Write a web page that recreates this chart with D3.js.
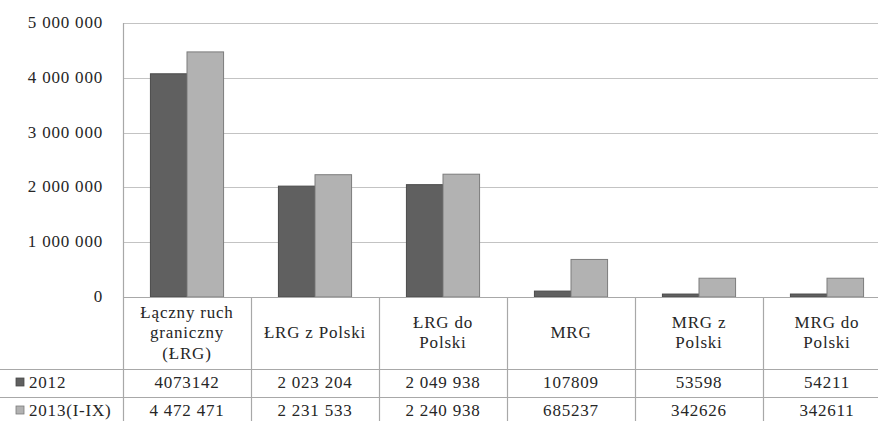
<!DOCTYPE html>
<html>
<head>
<meta charset="utf-8">
<script src="https://cdn.jsdelivr.net/npm/d3@7"></script>
</head>
<body style="margin:0; background:#fff">
<script>
const categories = [
    ["Łączny ruch", "graniczny", "(ŁRG)"],
    ["ŁRG z Polski"],
    ["ŁRG do", "Polski"],
    ["MRG"],
    ["MRG z", "Polski"],
    ["MRG do", "Polski"]
];
const seriesNames = ["2012", "2013(I-IX)"];
const values2012 = [4073142, 2023204, 2049938, 107809, 53598, 54211];
const values2013 = [4472471, 2231533, 2240938, 685237, 342626, 342611];
// values as printed in the data table
const labels2012 = ["4073142", "2 023 204", "2 049 938", "107809", "53598", "54211"];
const labels2013 = ["4 472 471", "2 231 533", "2 240 938", "685237", "342626", "342611"];
const yTicks = [0, 1000000, 2000000, 3000000, 4000000, 5000000];

const W = 878, H = 421;
const plot = {left: 123, right: 891, top: 23, bottom: 297};
const headerBottom = 369, rowH = 28;
const colors = ["#606060", "#b2b2b2"];
const strokes = ["#4a4a4a", "#7c7c7c"];
const gridColor = "#c3c3c3", tableColor = "#a8a8a8";
const FONT = "Liberation Serif";

const svg = d3.select('body').append('svg')
    .attr('width', W).attr('height', H)
    .attr('font-family', FONT)
    .style('font-family', `"${FONT}"`)
    .style('display', 'block');

// all text in one look
function txt(sel) {
    return sel.attr('font-family', FONT)
        .style('font-family', `"${FONT}"`)
        .style('font-size', '17px')
        .style('letter-spacing', '0.8px')
        .attr('fill', '#262626');
}

const keys = categories.map((c, i) => i);
const x = d3.scaleBand().domain(keys).range([plot.left, plot.right]).paddingInner(0).paddingOuter(0);
const xs = d3.scaleBand().domain(seriesNames).range([0, x.bandwidth()]).paddingInner(0).paddingOuter(0.75);
const y = d3.scaleLinear().domain([0, 5000000]).range([plot.bottom, plot.top]);

const fmt = v => d3.format(",")(v).replace(/,/g, " ");

// gridlines
svg.append('g').selectAll('line')
    .data(yTicks)
    .enter()
    .append('line')
    .attr('x1', plot.left).attr('x2', W)
    .attr('y1', d => Math.round(y(d)) + 0.5).attr('y2', d => Math.round(y(d)) + 0.5)
    .attr('stroke', gridColor).attr('stroke-width', 1.2);

// y labels
svg.append('g').selectAll('text')
    .data(yTicks)
    .enter()
    .append('text')
    .call(txt)
    .attr('x', 103)
    .attr('y', d => y(d) + 5)
    .attr('text-anchor', 'end')
    .text(d => fmt(d));

// bars
const series = [values2012, values2013];
series.forEach((vals, s) => {
    svg.append('g').selectAll('rect')
        .data(vals)
        .enter()
        .append('rect')
        .attr('x', (d, i) => x(i) + xs(seriesNames[s]))
        .attr('y', d => y(d))
        .attr('width', xs.bandwidth())
        .attr('height', d => y(0) - y(d))
        .attr('fill', colors[s])
        .attr('stroke', strokes[s])
        .attr('stroke-width', 1);
});

// table lines
const table = svg.append('g').attr('stroke', tableColor).attr('stroke-width', 1.2);
table.append('line').attr('x1', plot.left + 0.5).attr('x2', plot.left + 0.5).attr('y1', plot.top).attr('y2', H);
table.selectAll('.col')
    .data(keys.slice(1))
    .enter()
    .append('line')
    .attr('x1', d => x(d) + 0.5).attr('x2', d => x(d) + 0.5)
    .attr('y1', plot.bottom).attr('y2', H);
table.append('line').attr('x1', plot.left).attr('x2', W).attr('y1', plot.bottom + 0.5).attr('y2', plot.bottom + 0.5);
[headerBottom, headerBottom + rowH].forEach(yy => {
    table.append('line').attr('x1', 0).attr('x2', W).attr('y1', yy + 0.5).attr('y2', yy + 0.5);
});

// header labels
const headMid = (plot.bottom + headerBottom) / 2 + 5;
categories.forEach((lines, i) => {
    const t = svg.append('text')
        .call(txt)
        .attr('text-anchor', 'middle');
    lines.forEach((ln, j) => {
        t.append('tspan')
            .attr('x', x(i) + x.bandwidth() / 2)
            .attr('y', headMid + (j - (lines.length - 1) / 2) * 20.5)
            .text(ln);
    });
});

// data rows
[labels2012, labels2013].forEach((row, s) => {
    const base = headerBottom + rowH * (s + 1) - 9;
    svg.append('rect')
        .attr('x', 16).attr('y', base - 10)
        .attr('width', 8).attr('height', 8)
        .attr('fill', colors[s]).attr('stroke', strokes[s]).attr('stroke-width', 0.8);
    svg.append('text').call(txt).attr('x', 29).attr('y', base).text(seriesNames[s]);
    svg.append('g').selectAll('text')
        .data(row)
        .enter()
        .append('text')
        .call(txt)
        .attr('x', (d, i) => x(i) + x.bandwidth() / 2)
        .attr('y', base)
        .attr('text-anchor', 'middle')
        .text(d => d);
});
</script>
</body>
</html>
